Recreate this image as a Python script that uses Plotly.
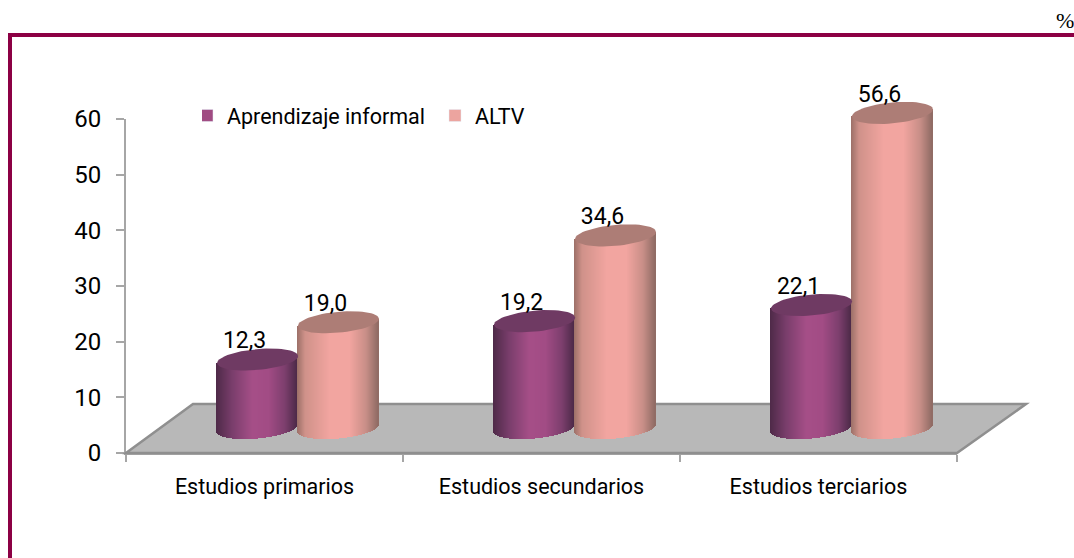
import math
import plotly.graph_objects as go

categories = ["Estudios primarios", "Estudios secundarios", "Estudios terciarios"]
informal = [12.3, 19.2, 22.1]
altv = [19.0, 34.6, 56.6]
informal_labels = ["12,3", "19,2", "22,1"]
altv_labels = ["19,0", "34,6", "56,6"]
y_ticks = [0, 10, 20, 30, 40, 50, 60]

W, H = 1074, 558
X0, X1 = 126, 957
Y0, Y60 = 453, 119
PX = (X1 - X0) / 3
PY = (Y0 - Y60) / 60
FONT = "Roboto, Liberation Sans, sans-serif"
GRID = "#a6a6a6"
MAROON = "#8c0044"

depth = 25 / PY
half_w = 40.5 / PX
b_u = 10.5 / PY
k_u = 3.5 / PY
n_strips = 81


def ramp(stops, t):
    for (a, ca), (c, cc) in zip(stops, stops[1:]):
        if t <= c:
            f = (t - a) / (c - a)
            return "rgb(%d,%d,%d)" % tuple(ca[i] + (cc[i] - ca[i]) * f for i in range(3))
    return "rgb(%d,%d,%d)" % stops[-1][1]


PURPLE = [(-1, (78, 42, 72)), (-0.6, (122, 62, 108)), (-0.1, (166, 79, 136)),
          (0.3, (162, 76, 133)), (0.7, (125, 63, 110)), (1, (77, 42, 72))]
PINK = [(-1, (156, 112, 104)), (-0.8, (208, 146, 138)), (-0.2, (242, 165, 160)),
        (0.3, (242, 165, 160)), (0.7, (201, 143, 136)), (1, (143, 107, 100))]


def cylinder(values, offset, stops):
    xs, base, height, colors = [], [], [], []
    for i, v in enumerate(values):
        cx = i + offset
        for s in range(n_strips):
            u = (s + 0.5) / n_strips * 2 - 1
            r = math.sqrt(1 - u * u)
            xs.append(cx + u * half_w)
            base.append(depth - b_u * r + k_u * u)
            height.append(v + b_u * r)
            colors.append(ramp(stops, u))
    return xs, base, height, colors


def cap(value, cx):
    xs, ys = [], []
    for d in range(0, 361, 6):
        t = math.radians(d)
        u = math.cos(t)
        xs.append(cx + u * half_w)
        ys.append(value + depth + b_u * math.sin(t) + k_u * u)
    return xs, ys


fig = go.Figure()

series = [("Aprendizaje informal", informal, informal_labels, 0.475, PURPLE, "#6f3a63", "#a04b82"),
          ("ALTV", altv, altv_labels, 0.767, PINK, "#ad7d76", "#eca49f")]

# legend entries live on the visible axes
for name, values, labels, offset, stops, top, swatch in series:
    fig.add_trace(go.Bar(x=[None], y=[None], name=name, marker=dict(color=swatch)))

# marks live on a transparent full-page subplot with the same scale, so they may overhang the axes
for name, values, labels, offset, stops, top, swatch in series:
    xs, base, height, colors = cylinder(values, offset, stops)
    fig.add_trace(go.Bar(x=xs, y=height, base=base, width=1.35 / PX, xaxis="x2", yaxis="y2",
                         marker=dict(color=colors, line=dict(width=0)),
                         name=name, showlegend=False, hoverinfo="skip"))
for name, values, labels, offset, stops, top, swatch in series:
    for i, v in enumerate(values):
        cx_, cy_ = cap(v, i + offset)
        fig.add_trace(go.Scatter(x=cx_, y=cy_, mode="lines", fill="toself", fillcolor=top,
                                 xaxis="x2", yaxis="y2",
                                 line=dict(width=0, color=top),
                                 hoverinfo="skip", showlegend=False))
for name, values, labels, offset, stops, top, swatch in series:
    fig.add_trace(go.Scatter(
        x=[i + offset - 13 / PX for i in range(3)],
        y=[v + 42 / PY for v in values], xaxis="x2", yaxis="y2",
        text=labels, mode="text", textposition="middle center",
        textfont=dict(family=FONT, size=23, color="#000000"),
        hoverinfo="skip", showlegend=False))

floor_x = [0, 3, 3 + 69 / PX, 67 / PX]
floor_y = [0, 0, 49 / PY, 49 / PY]
floor_path = "M " + " L ".join(f"{a},{c}" for a, c in zip(floor_x, floor_y)) + " Z"

fig.update_layout(
    width=W, height=H, autosize=False,
    margin=dict(l=0, r=0, t=0, b=0, pad=0, autoexpand=False),
    paper_bgcolor="#ffffff", plot_bgcolor="rgba(0,0,0,0)",
    barmode="overlay", bargap=0,
    font=dict(family=FONT, size=23, color="#000000"),
    legend=dict(orientation="h", x=202 / W, y=1 - 95 / H, xanchor="left", yanchor="top",
                bgcolor="rgba(0,0,0,0)", font=dict(family=FONT, size=21.5), indentation=-15,
                entrywidth=218, entrywidthmode="pixels", traceorder="normal"),
    xaxis=dict(domain=[X0 / W, X1 / W], range=[0, 3], tickmode="array",
               tickvals=[0.5, 1.5, 2.5], ticktext=categories, ticks="", ticklabelstandoff=13,
               tickfont=dict(family=FONT, size=21.5),
               showgrid=False, zeroline=False, showline=True, linecolor=GRID, linewidth=2,
               fixedrange=True,
               minor=dict(tickmode="array", tickvals=[0, 1, 2, 3], ticks="outside", ticklen=7,
                          tickwidth=2, tickcolor=GRID, showgrid=False)),
    yaxis=dict(domain=[1 - Y0 / H, 1 - Y60 / H], range=[0, 60], tickmode="array",
               tickvals=y_ticks, ticks="outside", ticklen=8, tickwidth=2, tickcolor=GRID,
               ticklabelstandoff=10, fixedrange=True, tickfont=dict(family=FONT, size=24),
               showgrid=False, zeroline=False, showline=True, linecolor=GRID, linewidth=2),
    xaxis2=dict(domain=[0, 1], range=[-X0 / PX, (W - X0) / PX], visible=False, anchor="y2",
                fixedrange=True),
    yaxis2=dict(domain=[0, 1], range=[-(H - Y0) / PY, Y0 / PY], visible=False, anchor="x2",
                fixedrange=True),
    shapes=[
        dict(type="path", xref="x2", yref="y2", path=floor_path, layer="below",
             fillcolor="#b8b8b8", line=dict(color="#8f8f8f", width=2.5)),
        dict(type="line", xref="paper", yref="paper", x0=8 / W, x1=1, y0=1 - 35 / H, y1=1 - 35 / H,
             line=dict(color=MAROON, width=4)),
        dict(type="line", xref="paper", yref="paper", x0=10 / W, x1=10 / W, y0=1 - 33 / H, y1=0,
             line=dict(color=MAROON, width=4)),
    ],
    annotations=[
        dict(text="%", xref="paper", yref="paper", x=1.002, y=1 - 20 / H, xanchor="right",
             yanchor="middle", showarrow=False,
             font=dict(family="Liberation Serif, serif", size=22, color="#000000")),
    ],
)

fig.write_html("out.html", post_script="document.body.style.margin='0';",
               config=dict(displayModeBar=False))
